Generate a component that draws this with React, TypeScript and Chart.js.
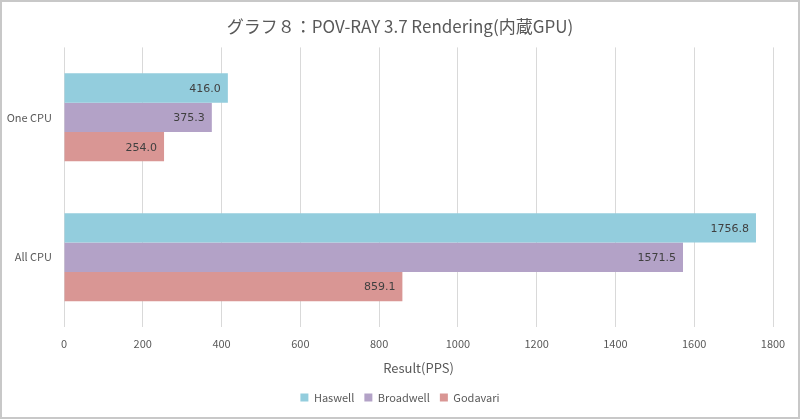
import React, { useEffect, useRef } from "react";
import { Chart, registerables } from "chart.js";

Chart.register(...registerables);

const categories = ["One CPU", "All CPU"];
const seriesNames = ["Haswell", "Broadwell", "Godavari"];
const haswell = [416.0, 1756.8];
const broadwell = [375.3, 1571.5];
const godavari = [254.0, 859.1];
const xTicks = [0, 200, 400, 600, 800, 1000, 1200, 1400, 1600, 1800];
const colors = ["#93CDDD", "#B3A2C7", "#D99694"];

const FONT = "'Noto Sans CJK JP', 'Noto Sans', sans-serif";

const valueLabels = {
  id: "valueLabels",
  afterDatasetsDraw(chart: any) {
    const ctx = chart.ctx;
    ctx.save();
    ctx.font = `11px 'DejaVu Sans', sans-serif`;
    ctx.fillStyle = "#404040";
    ctx.textAlign = "right";
    ctx.textBaseline = "middle";
    chart.data.datasets.forEach((ds: any, i: number) => {
      const meta = chart.getDatasetMeta(i);
      meta.data.forEach((el: any, j: number) => {
        ctx.fillText(Number(ds.data[j]).toFixed(1), el.x - 7, el.y + 1);
      });
    });
    // category labels on the y axis
    const yScale = chart.scales.y;
    ctx.font = `11px ${FONT}`;
    ctx.fillStyle = "#595959";
    chart.data.labels.forEach((lab: string, j: number) => {
      ctx.fillText(lab, chart.chartArea.left - 12, yScale.getPixelForValue(j));
    });
    ctx.restore();
  },
};

const frame = {
  id: "frame",
  beforeDraw(chart: any) {
    const ctx = chart.ctx;
    ctx.save();
    ctx.fillStyle = "#ffffff";
    ctx.fillRect(0, 0, chart.width, chart.height);
    ctx.strokeStyle = "#c8c8c8";
    ctx.lineWidth = 2;
    ctx.strokeRect(1, 1, chart.width - 2, chart.height - 2);
    ctx.restore();
  },
};

export default function App() {
  const ref = useRef<HTMLCanvasElement | null>(null);
  useEffect(() => {
    document.body.style.margin = "0";
    const seriesData = [haswell, broadwell, godavari];
    const chart = new Chart(ref.current as HTMLCanvasElement, {
      type: "bar",
      data: {
        labels: categories,
        datasets: seriesNames.map((name, i) => ({
          label: name,
          data: seriesData[i],
          backgroundColor: colors[i],
          borderWidth: 0,
          barPercentage: 1,
          categoryPercentage: 0.629,
        })),
      },
      options: {
        indexAxis: "y",
        responsive: false,
        animation: false,
        layout: { padding: { left: 27, right: 27, top: 0, bottom: 6 } },
        plugins: {
          title: {
            display: true,
            text: "グラフ８：POV-RAY 3.7 Rendering(内蔵GPU)",
            color: "#595959",
            font: { family: FONT, size: 17, weight: "normal" },
            padding: { top: 16, bottom: 11 },
          },
          legend: {
            position: "bottom",
            labels: {
              boxWidth: 8,
              boxHeight: 8,
              padding: 10,
              color: "#595959",
              font: { family: FONT, size: 11 },
            },
          },
          tooltip: { enabled: false },
        },
        scales: {
          x: {
            min: 0,
            max: 1800,
            afterBuildTicks(scale: any) {
              scale.ticks = xTicks.map((v) => ({ value: v }));
            },
            ticks: {
              color: "#595959",
              font: { family: FONT, size: 11 },
              padding: 10,
              callback: (v: any) => String(v),
            },
            grid: { color: "#d9d9d9", drawTicks: false },
            border: { display: false },
            title: {
              display: true,
              text: "Result(PPS)",
              color: "#595959",
              font: { family: FONT, size: 13 },
              padding: { top: 0, bottom: 6 },
            },
          },
          y: {
            ticks: { display: false },
            grid: { display: false, drawTicks: false },
            border: { display: false },
            afterFit(scale: any) {
              scale.width = 37;
            },
          },
        },
      },
      plugins: [frame, valueLabels],
    });
    return () => chart.destroy();
  }, []);
  return (
    <div style={{ width: 800, height: 419 }}>
      <canvas ref={ref} width={800} height={419} style={{ display: "block" }} />
    </div>
  );
}
